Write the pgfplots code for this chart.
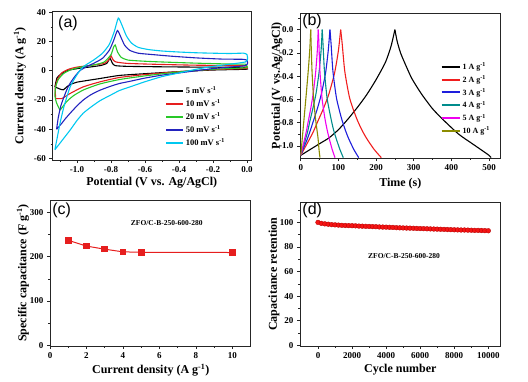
\documentclass[border=0pt]{standalone}
\usepackage{fontspec}
\setmainfont{Liberation Serif}
\newfontfamily\panelfont{Liberation Sans}
\usepackage{pgfplots}
\pgfplotsset{compat=1.18}
\definecolor{cRed}{RGB}{230,30,30}
\definecolor{cGreen}{RGB}{40,200,40}
\definecolor{cBlue}{RGB}{35,35,190}
\definecolor{cCyan}{RGB}{0,200,240}
\definecolor{bRed}{RGB}{240,30,30}
\definecolor{bBlue}{RGB}{30,30,220}
\definecolor{bTeal}{RGB}{0,140,140}
\definecolor{bMag}{RGB}{240,0,240}
\definecolor{bOlive}{RGB}{140,140,0}
\definecolor{ballred}{RGB}{245,20,20}
\tikzset{plet/.style={font=\panelfont\fontsize{16}{16}\selectfont, anchor=center}}
\pgfplotsset{
  myaxis/.style={
    scale only axis,
    axis line style={line width=0.9pt, black!85},
    every tick/.style={line width=0.7pt, black!85},
    tick align=outside,
    xtick pos=left, ytick pos=left,
    major tick length=3pt, minor tick length=1.8pt,
    tick label style={font=\fontsize{9}{10}\selectfont\bfseries},
    label style={font=\fontsize{12}{14}\selectfont\bfseries},
    /pgf/number format/assume math mode=true,
  },
}
\begin{document}
\begin{tikzpicture}
\path[use as bounding box] (0pt,0pt) rectangle (528pt,-381pt);
% ---------------- (a)
\begin{axis}[myaxis, at={(52.5pt,-11.5pt)}, anchor=north west,
  width=198.5pt, height=148.5pt,
  xmin=-1.144, xmax=0.0235, ymin=-61, ymax=40.5,
  xtick={-1.0,-0.8,-0.6,-0.4,-0.2,0.0}, minor xtick={-1.1,-0.9,-0.7,-0.5,-0.3,-0.1},
  ytick={-60,-40,-20,0,20,40}, minor ytick={-50,-30,-10,10,30},
  xticklabel style={/pgf/number format/.cd, fixed, fixed zerofill, precision=1},
  xlabel={Potential (V vs. Ag/AgCl)},
  ylabel={Current density (A g\textsuperscript{-1})},
  every axis x label/.append style={at={(axis description cs:0.5,-0.155)}, anchor=center},
  every axis y label/.append style={at={(axis description cs:-0.164,0.5)}, anchor=center},
  legend style={draw=none, fill=none, at={(axis description cs:0.567,0.51)}, anchor=north west,
    font=\fontsize{8.5}{10}\selectfont\bfseries, row sep=0.8pt, inner sep=0pt},
  legend cell align=left,
  legend image code/.code={\draw[#1, line width=2pt] (0pt,0pt) -- (16.5pt,0pt);},
  every axis plot/.append style={line width=1.1pt, smooth, tension=0.35},
]
\addplot[black] coordinates {
(-1.13,-11) (-1.118,-5) (-1.10,-2.8) (-1.07,-0.5) (-1.04,0.6) (-0.98,1.8) (-0.92,2.6) (-0.86,3.6) (-0.825,5) (-0.806,8.5) (-0.792,5.2) (-0.775,3.5) (-0.70,3) (-0.5,2.7) (-0.3,2.5) (-0.1,2.4) (-0.01,2.4) (0.0,1.5)
(-0.01,1) (-0.2,0.5) (-0.4,-0.6) (-0.6,-2) (-0.75,-3.2) (-0.865,-5.3) (-1.0,-7.8) (-1.04,-9.5) (-1.06,-11) (-1.08,-13) (-1.10,-12.5) (-1.13,-11)};
\addlegendentry{5 mV s\textsuperscript{-1}}
\addplot[cRed] coordinates {
(-1.125,-19) (-1.128,-12) (-1.115,-6) (-1.09,-1.5) (-1.05,1) (-1.0,2.5) (-0.9,4) (-0.84,5) (-0.812,7.5) (-0.80,10.3) (-0.788,7.5) (-0.77,6) (-0.7,5) (-0.5,4.3) (-0.3,3.8) (-0.1,3.6) (-0.01,3.5) (0.0,2.2)
(-0.01,1.5) (-0.2,0.8) (-0.4,-0.6) (-0.6,-2.6) (-0.75,-4.6) (-0.865,-7.6) (-0.963,-11) (-1.04,-15.5) (-1.08,-18.5) (-1.09,-19) (-1.125,-19)};
\addlegendentry{10 mV s\textsuperscript{-1}}
\addplot[cGreen] coordinates {
(-1.10,-27) (-1.12,-22) (-1.13,-17) (-1.125,-11) (-1.11,-6) (-1.08,-2) (-1.04,0.5) (-0.98,2.5) (-0.90,4) (-0.84,6) (-0.80,11) (-0.785,16) (-0.775,17.6) (-0.762,13) (-0.74,9.2) (-0.70,7.3) (-0.6,6.5) (-0.5,6) (-0.3,5.2) (-0.1,4.6) (-0.01,4.5) (0.0,3)
(-0.01,2) (-0.2,1) (-0.4,-0.8) (-0.6,-3.5) (-0.75,-6) (-0.865,-9) (-0.96,-13) (-1.02,-17) (-1.06,-21) (-1.09,-25.5) (-1.10,-27)};
\addlegendentry{20 mV s\textsuperscript{-1}}
\addplot[cBlue] coordinates {
(-1.12,-40) (-1.11,-32) (-1.095,-24) (-1.08,-19) (-1.06,-13) (-1.04,-8.5) (-1.01,-3.5) (-0.98,0.3) (-0.94,3) (-0.90,5.2) (-0.85,8.5) (-0.81,14) (-0.785,20.5) (-0.762,27.5) (-0.742,23) (-0.72,17.5) (-0.69,14) (-0.64,12) (-0.55,11) (-0.45,10) (-0.3,8.8) (-0.15,8) (-0.02,7.8) (0.0,7) (0.003,5)
(-0.01,3.5) (-0.1,2.5) (-0.2,1.5) (-0.3,0) (-0.4,-1.5) (-0.5,-3) (-0.6,-5) (-0.7,-7.5) (-0.75,-8.7) (-0.8,-10.5) (-0.865,-13.3) (-0.92,-16.5) (-0.963,-20) (-1.0,-24) (-1.04,-29) (-1.07,-33) (-1.09,-36) (-1.12,-40)};
\addlegendentry{50 mV s\textsuperscript{-1}}
\addplot[cCyan] coordinates {
(-1.13,-54) (-1.115,-45) (-1.10,-36) (-1.08,-26) (-1.06,-18) (-1.04,-11) (-1.02,-6.5) (-0.99,-1) (-0.96,3) (-0.90,7.5) (-0.85,12) (-0.81,18) (-0.78,27) (-0.757,36) (-0.735,31) (-0.71,24) (-0.68,19) (-0.64,16) (-0.58,14.5) (-0.5,13.5) (-0.4,12.8) (-0.3,12.3) (-0.2,12) (-0.1,11.8) (-0.02,12) (0.0,11) (0.003,8)
(-0.01,6) (-0.1,4.5) (-0.2,3) (-0.3,1) (-0.4,-1.5) (-0.5,-4) (-0.6,-7.5) (-0.7,-11.5) (-0.75,-13.5) (-0.8,-16.5) (-0.865,-20.5) (-0.92,-25) (-0.963,-29) (-1.0,-34) (-1.04,-40.5) (-1.07,-45) (-1.10,-49.5) (-1.13,-54)};
\addlegendentry{100 mV s\textsuperscript{-1}}
\node[plet] at (axis description cs:0.078,0.92) {(a)};
\end{axis}
% ---------------- (b)
\begin{axis}[myaxis, at={(300pt,-13.3pt)}, anchor=north west,
  width=200.7pt, height=144.7pt,
  xmin=-2, xmax=531, ymin=-1.103, ymax=0.14,
  xtick={0,100,200,300,400,500}, minor xtick={50,150,250,350,450},
  ytick={-1.0,-0.8,-0.6,-0.4,-0.2,0.0}, minor ytick={-0.9,-0.7,-0.5,-0.3,-0.1,0.1},
  yticklabel style={/pgf/number format/.cd, fixed, fixed zerofill, precision=1},
  xlabel={Time (s)},
  ylabel={Potential (V vs.Ag/AgCl)},
  every axis x label/.append style={at={(axis description cs:0.5,-0.175)}, anchor=center},
  every axis y label/.append style={at={(axis description cs:-0.115,0.5)}, anchor=center},
  legend style={draw=none, fill=none, at={(axis description cs:0.70,0.675)}, anchor=north west,
    font=\fontsize{8}{9.5}\selectfont\bfseries, row sep=0.6pt, inner sep=0pt},
  legend cell align=left,
  legend image code/.code={\draw[#1, line width=2pt] (0pt,0pt) -- (18pt,0pt);},
  every axis plot/.append style={line width=1.1pt},
]
\addplot[black, smooth, tension=0.4] coordinates {
(0,-1.08) (25,-1.03) (50,-0.98) (75,-0.93) (100,-0.86) (125,-0.77) (150,-0.67) (175,-0.56) (200,-0.43) (225,-0.28) (240,-0.14) (250,0)};
\addlegendentry{1 A g\textsuperscript{-1}}
\addplot[bRed, smooth, tension=0.4] coordinates {
(0,-1.08) (10,-1.02) (20,-0.96) (33,-0.88) (45,-0.79) (60,-0.68) (75,-0.55) (90,-0.37) (100,-0.18) (106,0)};
\addlegendentry{2 A g\textsuperscript{-1}}
\addplot[bBlue, smooth, tension=0.4] coordinates {
(0,-1.08) (7,-1.02) (15,-0.96) (24,-0.88) (33,-0.79) (44,-0.68) (55,-0.55) (66,-0.37) (73,-0.18) (77.5,0)};
\addlegendentry{3 A g\textsuperscript{-1}}
\addplot[bTeal, smooth, tension=0.4] coordinates {
(0,-1.08) (5.4,-1.02) (11,-0.96) (18,-0.88) (24,-0.79) (32,-0.68) (40.5,-0.55) (48.5,-0.37) (54,-0.18) (57,0)};
\addlegendentry{4 A g\textsuperscript{-1}}
\addplot[bMag, smooth, tension=0.4] coordinates {
(0,-1.08) (4.4,-1.02) (8.8,-0.96) (14.5,-0.88) (19.8,-0.79) (26.4,-0.68) (33,-0.55) (39.5,-0.37) (44,-0.18) (46.5,0)};
\addlegendentry{5 A g\textsuperscript{-1}}
\addplot[bOlive, smooth, tension=0.4] coordinates {
(0,-1.08) (5,-0.90) (10,-0.72) (15,-0.54) (20,-0.35) (24,-0.17) (26.5,0)};
\addlegendentry{10 A g\textsuperscript{-1}}
\addplot[black, smooth, tension=0.4, forget plot] coordinates {
(250,0) (256,-0.1) (265,-0.2) (278,-0.3) (295,-0.42) (320,-0.55) (350,-0.68) (380,-0.78) (420,-0.9) (460,-0.99) (500,-1.08) (505,-1.10)};
\addplot[bRed, smooth, tension=0.4, forget plot] coordinates {
(106,0) (110,-0.12) (117,-0.36) (130,-0.59) (148,-0.76) (162,-0.86) (175,-0.935) (195,-1.03) (214,-1.10)};
\addplot[bBlue, smooth, tension=0.4, forget plot] coordinates {
(77.5,0) (80.5,-0.12) (85.5,-0.36) (95,-0.59) (108,-0.76) (118,-0.86) (127,-0.935) (141,-1.03) (154,-1.10)};
\addplot[bTeal, smooth, tension=0.4, forget plot] coordinates {
(57,0) (59,-0.12) (63,-0.36) (70,-0.59) (80,-0.76) (87,-0.86) (94,-0.935) (104,-1.03) (113,-1.10)};
\addplot[bMag, smooth, tension=0.4, forget plot] coordinates {
(46.5,0) (48.2,-0.12) (51,-0.36) (56.5,-0.59) (64,-0.76) (70,-0.86) (75.5,-0.935) (83.5,-1.03) (91,-1.10)};
\addplot[bOlive, smooth, tension=0.4, forget plot] coordinates {
(26.5,0) (27.5,-0.12) (30,-0.36) (34,-0.59) (39,-0.76) (43,-0.86) (46,-0.935) (48.5,-1.03) (51,-1.10)};
\node[plet] at (axis description cs:0.06,0.947) {(b)};
\end{axis}
% ---------------- (c)
\begin{axis}[myaxis, at={(50pt,-200pt)}, anchor=north west,
  width=200.7pt, height=146pt,
  xmin=0, xmax=11, ymin=-1.5, ymax=328,
  xtick={0,2,4,6,8,10}, minor xtick={1,3,5,7,9},
  ytick={0,100,200,300}, minor ytick={50,150,250},
  xlabel={Current density (A g\textsuperscript{-1})},
  ylabel={Specific capacitance (F g\textsuperscript{-1})},
  every axis x label/.append style={at={(axis description cs:0.502,-0.164)}, anchor=center},
  every axis y label/.append style={at={(axis description cs:-0.135,0.5)}, anchor=center},
]
\addplot[cRed, line width=1pt, mark=square*, mark size=2.8pt, mark options={fill=cRed, draw=cRed}] coordinates {
(1,237) (2,224) (3,217) (4,211) (5,210) (10,209.5)};
\node[font=\fontsize{7.5}{8}\selectfont\bfseries] at (axis cs:6.4,275) {ZFO/C-B-250-600-280};
\node[plet] at (axis description cs:0.058,0.927) {(c)};
\end{axis}
% ---------------- (d)
\begin{axis}[myaxis, at={(300pt,-202.7pt)}, anchor=north west,
  width=200.7pt, height=143.3pt,
  xmin=-1057, xmax=10728, ymin=-0.5, ymax=116,
  xtick={0,2000,4000,6000,8000,10000}, minor xtick={1000,3000,5000,7000,9000},
  ytick={0,20,40,60,80,100}, minor ytick={10,30,50,70,90,110},
  xticklabel style={/pgf/number format/.cd, 1000 sep={}},
  scaled x ticks=false,
  xlabel={Cycle number},
  ylabel={Capacitance retention},
  every axis x label/.append style={at={(axis description cs:0.5,-0.167)}, anchor=center},
  every axis y label/.append style={at={(axis description cs:-0.13,0.5)}, anchor=center},
]
\addplot[only marks, mark=*, mark size=2.4pt, mark options={fill=ballred, draw=red!70!black, line width=0.3pt}] coordinates {
(0,100) (200,99.2) (400,98.8) (600,98.5) (800,98.2) (1000,98.0) (1200,97.8) (1400,97.6) (1600,97.5) (1800,97.4)
(2000,97.3) (2200,97.2) (2400,97.0) (2600,96.9) (2800,96.8) (3000,96.7) (3200,96.6) (3400,96.5) (3600,96.3) (3800,96.2)
(4000,96.1) (4200,96.0) (4400,95.9) (4600,95.7) (4800,95.6) (5000,95.5) (5200,95.4) (5400,95.3) (5600,95.2) (5800,95.1)
(6000,95.0) (6200,94.9) (6400,94.8) (6600,94.7) (6800,94.6) (7000,94.5) (7200,94.4) (7400,94.3) (7600,94.2) (7800,94.1)
(8000,94.0) (8200,93.9) (8400,93.8) (8600,93.8) (8800,93.7) (9000,93.6) (9200,93.5) (9400,93.5) (9600,93.4) (9800,93.3)
(10000,93.2)};
\node[font=\fontsize{7.5}{8}\selectfont\bfseries] at (axis cs:5050,72.8) {ZFO/C-B-250-600-280};
\node[plet] at (axis description cs:0.061,0.944) {(d)};
\end{axis}
\end{tikzpicture}
\end{document}
